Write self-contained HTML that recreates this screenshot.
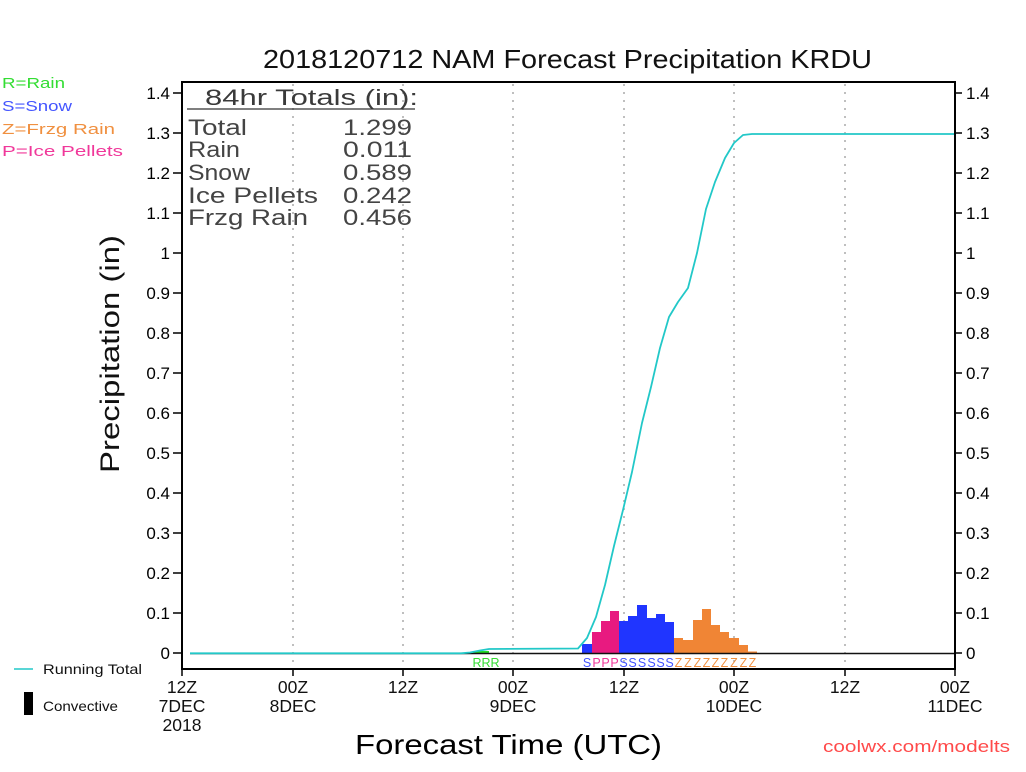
<!DOCTYPE html>
<html>
<head>
<meta charset="utf-8">
<style>
html,body{margin:0;padding:0;background:#fff;}
svg{display:block;}
text{font-family:"Liberation Sans",sans-serif;}
</style>
</head>
<body>
<svg width="1026" height="772" viewBox="0 0 1026 772" xmlns="http://www.w3.org/2000/svg">
<rect x="0" y="0" width="1026" height="772" fill="#fff"/>

<!-- Title -->
<text x="263" y="68" font-size="26" fill="#111" textLength="609" lengthAdjust="spacingAndGlyphs">2018120712 NAM Forecast Precipitation KRDU</text>

<!-- Left legend -->
<text x="2" y="88" font-size="14.5" fill="#33dd33" textLength="63" lengthAdjust="spacingAndGlyphs">R=Rain</text>
<text x="2" y="111" font-size="14.5" fill="#4455ff" textLength="70" lengthAdjust="spacingAndGlyphs">S=Snow</text>
<text x="2" y="134" font-size="14.5" fill="#f09040" textLength="113" lengthAdjust="spacingAndGlyphs">Z=Frzg Rain</text>
<text x="2" y="156" font-size="14.5" fill="#f0389a" textLength="121" lengthAdjust="spacingAndGlyphs">P=Ice Pellets</text>

<!-- Grid lines -->
<g stroke="#aaaaaa" stroke-width="1.5" stroke-dasharray="2 6">
<line x1="293" y1="84" x2="293" y2="668"/>
<line x1="403" y1="84" x2="403" y2="668"/>
<line x1="513" y1="84" x2="513" y2="668"/>
<line x1="624" y1="84" x2="624" y2="668"/>
<line x1="734" y1="84" x2="734" y2="668"/>
<line x1="845" y1="84" x2="845" y2="668"/>
</g>

<!-- Totals box -->
<text x="205" y="105" font-size="22" fill="#3a3a3a" textLength="213" lengthAdjust="spacingAndGlyphs">84hr Totals (in):</text>
<line x1="187" y1="109" x2="415" y2="109" stroke="#333" stroke-width="1.2"/>
<g font-size="22" fill="#444">
<text x="188" y="135" textLength="59" lengthAdjust="spacingAndGlyphs">Total</text>
<text x="188" y="157" textLength="52" lengthAdjust="spacingAndGlyphs">Rain</text>
<text x="188" y="180" textLength="62" lengthAdjust="spacingAndGlyphs">Snow</text>
<text x="188" y="203" textLength="130" lengthAdjust="spacingAndGlyphs">Ice Pellets</text>
<text x="188" y="225" textLength="120" lengthAdjust="spacingAndGlyphs">Frzg Rain</text>
<text x="343" y="135" textLength="69" lengthAdjust="spacingAndGlyphs">1.299</text>
<text x="343" y="157" textLength="69" lengthAdjust="spacingAndGlyphs">0.011</text>
<text x="343" y="180" textLength="69" lengthAdjust="spacingAndGlyphs">0.589</text>
<text x="343" y="203" textLength="69" lengthAdjust="spacingAndGlyphs">0.242</text>
<text x="343" y="225" textLength="69" lengthAdjust="spacingAndGlyphs">0.456</text>
</g>

<!-- Bars -->
<g>
<rect x="473" y="651" width="16" height="2.5" fill="#22dd22"/>
<rect x="582" y="644" width="10" height="9.5" fill="#2035ff"/>
<rect x="592" y="632" width="9" height="21.5" fill="#e81a80"/>
<rect x="601" y="621" width="9" height="32.5" fill="#e81a80"/>
<rect x="610" y="611" width="9" height="42.5" fill="#e81a80"/>
<rect x="619" y="621" width="9" height="32.5" fill="#2035ff"/>
<rect x="628" y="616" width="9" height="37.5" fill="#2035ff"/>
<rect x="637" y="605" width="10" height="48.5" fill="#2035ff"/>
<rect x="647" y="618" width="9" height="35.5" fill="#2035ff"/>
<rect x="656" y="614" width="9" height="39.5" fill="#2035ff"/>
<rect x="665" y="622" width="9" height="31.5" fill="#2035ff"/>
<rect x="674" y="638" width="9" height="15.5" fill="#f08535"/>
<rect x="683" y="640" width="10" height="13.5" fill="#f08535"/>
<rect x="693" y="620" width="9" height="33.5" fill="#f08535"/>
<rect x="702" y="609" width="9" height="44.5" fill="#f08535"/>
<rect x="711" y="625" width="9" height="28.5" fill="#f08535"/>
<rect x="720" y="632" width="9" height="21.5" fill="#f08535"/>
<rect x="729" y="638" width="10" height="15.5" fill="#f08535"/>
<rect x="739" y="645" width="9" height="8.5" fill="#f08535"/>
<rect x="748" y="651.5" width="9" height="2" fill="#f08535"/>
</g>

<!-- zero line -->
<line x1="190" y1="653.5" x2="955" y2="653.5" stroke="#111" stroke-width="1.5"/>

<!-- Running total -->
<polyline fill="none" stroke="#22c8c8" stroke-width="1.8" stroke-linejoin="round"
points="190,653.3 461,653.3 470,652.5 480,650.5 489,649 578,648.5 587,638 596,617 605,585 614,546 623,510 632,472 642,423 651,387 660,348 669,317 678,302 688,288 697,253 706,209 715,182 725,158 734,143 743,135 752,134 955,134"/>

<!-- Precip type letters -->
<g font-size="12.5" text-anchor="middle">
<text x="477" y="667" fill="#33dd33">R</text>
<text x="486" y="667" fill="#33dd33">R</text>
<text x="495" y="667" fill="#33dd33">R</text>
<text x="587" y="667" fill="#4455ff">S</text>
<text x="596.5" y="667" fill="#f0389a">P</text>
<text x="605.5" y="667" fill="#f0389a">P</text>
<text x="614.5" y="667" fill="#f0389a">P</text>
<text x="623.5" y="667" fill="#4455ff">S</text>
<text x="632.5" y="667" fill="#4455ff">S</text>
<text x="642" y="667" fill="#4455ff">S</text>
<text x="651.5" y="667" fill="#4455ff">S</text>
<text x="660.5" y="667" fill="#4455ff">S</text>
<text x="669.5" y="667" fill="#4455ff">S</text>
<text x="678.5" y="667" fill="#f09040">Z</text>
<text x="688" y="667" fill="#f09040">Z</text>
<text x="697.5" y="667" fill="#f09040">Z</text>
<text x="706.5" y="667" fill="#f09040">Z</text>
<text x="715.5" y="667" fill="#f09040">Z</text>
<text x="724.5" y="667" fill="#f09040">Z</text>
<text x="734" y="667" fill="#f09040">Z</text>
<text x="743.5" y="667" fill="#f09040">Z</text>
<text x="752.5" y="667" fill="#f09040">Z</text>
</g>

<!-- Frame -->
<rect x="182" y="82" width="773" height="587" fill="none" stroke="#000" stroke-width="2"/>

<!-- Y ticks -->
<g stroke="#000" stroke-width="1.5">
<line x1="173" y1="653" x2="182" y2="653"/><line x1="955" y1="653" x2="962" y2="653"/>
<line x1="173" y1="613" x2="182" y2="613"/><line x1="955" y1="613" x2="962" y2="613"/>
<line x1="173" y1="573" x2="182" y2="573"/><line x1="955" y1="573" x2="962" y2="573"/>
<line x1="173" y1="533" x2="182" y2="533"/><line x1="955" y1="533" x2="962" y2="533"/>
<line x1="173" y1="493" x2="182" y2="493"/><line x1="955" y1="493" x2="962" y2="493"/>
<line x1="173" y1="453" x2="182" y2="453"/><line x1="955" y1="453" x2="962" y2="453"/>
<line x1="173" y1="413" x2="182" y2="413"/><line x1="955" y1="413" x2="962" y2="413"/>
<line x1="173" y1="373" x2="182" y2="373"/><line x1="955" y1="373" x2="962" y2="373"/>
<line x1="173" y1="333" x2="182" y2="333"/><line x1="955" y1="333" x2="962" y2="333"/>
<line x1="173" y1="293" x2="182" y2="293"/><line x1="955" y1="293" x2="962" y2="293"/>
<line x1="173" y1="253" x2="182" y2="253"/><line x1="955" y1="253" x2="962" y2="253"/>
<line x1="173" y1="213" x2="182" y2="213"/><line x1="955" y1="213" x2="962" y2="213"/>
<line x1="173" y1="173" x2="182" y2="173"/><line x1="955" y1="173" x2="962" y2="173"/>
<line x1="173" y1="133" x2="182" y2="133"/><line x1="955" y1="133" x2="962" y2="133"/>
<line x1="173" y1="93" x2="182" y2="93"/><line x1="955" y1="93" x2="962" y2="93"/>
</g>
<g font-size="17" fill="#000" text-anchor="end">
<text x="170" y="659">0</text>
<text x="170" y="619">0.1</text>
<text x="170" y="579">0.2</text>
<text x="170" y="539">0.3</text>
<text x="170" y="499">0.4</text>
<text x="170" y="459">0.5</text>
<text x="170" y="419">0.6</text>
<text x="170" y="379">0.7</text>
<text x="170" y="339">0.8</text>
<text x="170" y="299">0.9</text>
<text x="170" y="259">1</text>
<text x="170" y="219">1.1</text>
<text x="170" y="179">1.2</text>
<text x="170" y="139">1.3</text>
<text x="170" y="99">1.4</text>
</g>
<g font-size="17" fill="#000">
<text x="966" y="659">0</text>
<text x="966" y="619">0.1</text>
<text x="966" y="579">0.2</text>
<text x="966" y="539">0.3</text>
<text x="966" y="499">0.4</text>
<text x="966" y="459">0.5</text>
<text x="966" y="419">0.6</text>
<text x="966" y="379">0.7</text>
<text x="966" y="339">0.8</text>
<text x="966" y="299">0.9</text>
<text x="966" y="259">1</text>
<text x="966" y="219">1.1</text>
<text x="966" y="179">1.2</text>
<text x="966" y="139">1.3</text>
<text x="966" y="99">1.4</text>
</g>

<!-- X ticks -->
<g stroke="#000" stroke-width="1.5">
<line x1="182" y1="669" x2="182" y2="676"/>
<line x1="293" y1="669" x2="293" y2="676"/>
<line x1="403" y1="669" x2="403" y2="676"/>
<line x1="513" y1="669" x2="513" y2="676"/>
<line x1="624" y1="669" x2="624" y2="676"/>
<line x1="734" y1="669" x2="734" y2="676"/>
<line x1="845" y1="669" x2="845" y2="676"/>
<line x1="955" y1="669" x2="955" y2="676"/>
</g>
<g font-size="17.5" fill="#111" text-anchor="middle">
<text x="182" y="693">12Z</text><text x="182" y="712">7DEC</text><text x="182" y="731">2018</text>
<text x="293" y="693">00Z</text><text x="293" y="712">8DEC</text>
<text x="403" y="693">12Z</text>
<text x="513" y="693">00Z</text><text x="513" y="712">9DEC</text>
<text x="624" y="693">12Z</text>
<text x="734" y="693">00Z</text><text x="734" y="712">10DEC</text>
<text x="845" y="693">12Z</text>
<text x="955" y="693">00Z</text><text x="955" y="712">11DEC</text>
</g>

<!-- Axis labels -->
<text x="355" y="754" font-size="28" fill="#000" textLength="307" lengthAdjust="spacingAndGlyphs">Forecast Time (UTC)</text>
<text transform="translate(119,473) rotate(-90)" x="0" y="0" font-size="27" fill="#111" textLength="238" lengthAdjust="spacingAndGlyphs">Precipitation (in)</text>

<!-- Bottom legend -->
<line x1="14" y1="669" x2="33" y2="669" stroke="#22c8c8" stroke-width="1.5"/>
<text x="43" y="674" font-size="14" fill="#111" textLength="99" lengthAdjust="spacingAndGlyphs">Running Total</text>
<rect x="24" y="692" width="9" height="23" fill="#000"/>
<text x="43" y="711" font-size="14" fill="#111" textLength="75" lengthAdjust="spacingAndGlyphs">Convective</text>

<!-- Credit -->
<text x="823" y="752" font-size="17" fill="#ff4a4a" textLength="187" lengthAdjust="spacingAndGlyphs">coolwx.com/modelts</text>
</svg>
</body>
</html>
